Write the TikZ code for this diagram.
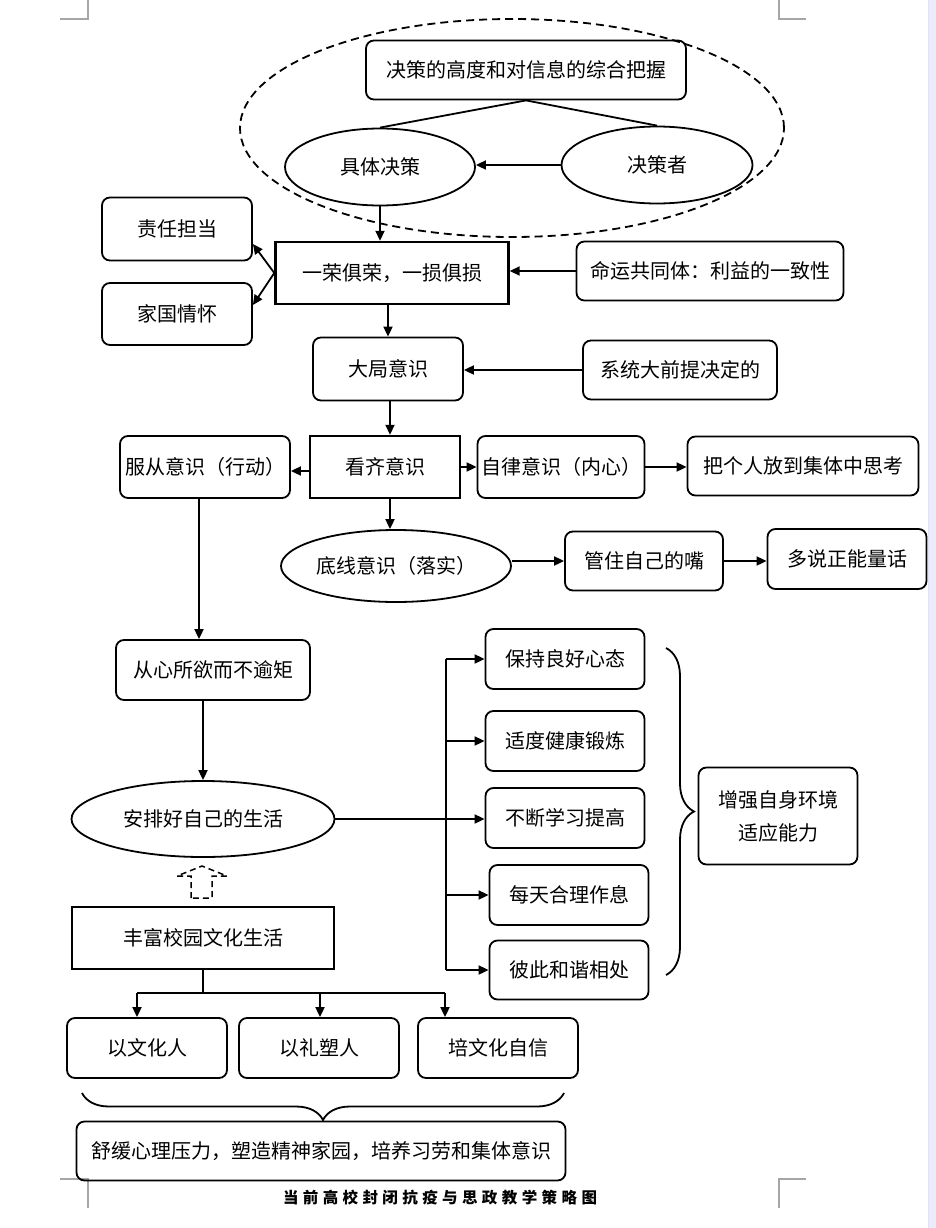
\documentclass[tikz,border=0pt]{standalone}
\usepackage{fontspec}
\setmainfont{Noto Sans CJK SC}
\usetikzlibrary{arrows.meta,shapes.geometric,decorations.pathreplacing,calc}
\begin{document}
\begin{tikzpicture}[x=1pt,y=-1pt,
  every node/.style={font=\fontsize{20}{24}\selectfont, inner sep=0pt, align=center},
  rb/.style 2 args={draw, line width=1.8pt, rounded corners=8pt, minimum width=#1, minimum height=#2},
  sb/.style 2 args={draw, line width=2.4pt, minimum width=#1, minimum height=#2},
  el/.style 2 args={draw, ellipse, line width=1.8pt, minimum width=#1, minimum height=#2},
  arr/.style={line width=1.8pt, -{Triangle[length=10pt,width=9pt]}},
  ln/.style={line width=1.8pt},
  bracestyle/.style={line width=1.8pt, decorate},
  cornermark/.style={draw=black!35, line width=1.6pt},
]
\useasboundingbox (0,0) rectangle (936,1228);
\fill[black!22!blue!8!white] (928,0) rectangle (936,1228);
\draw[black!30!blue!12!white, line width=1pt] (928.5,0) -- (928.5,1228);

% page corner marks
\draw[cornermark] (88,0) -- (88,19) -- (60,19);
\draw[cornermark] (779,0) -- (779,19) -- (806,19);
\draw[cornermark] (60,1179) -- (88,1179) -- (88,1208);
\draw[cornermark] (806,1179) -- (779,1179) -- (779,1208);

% dashed group
\node (grp) [draw, ellipse, line width=1.8pt, dash pattern=on 8pt off 5pt, minimum width=544pt, minimum height=218pt] at (512,128) {};

\node (top) [rb={320pt}{59pt}] at (526,70) {决策的高度和对信息的综合把握};
\node (jt)  [el={190pt}{77pt}] at (380,167) {具体决策};
\node (jcz) [el={191pt}{77pt}] at (657,165) {决策者};

\node (yr)  [sb={233pt}{62pt}] at (392,273) {一荣俱荣，一损俱损};
\node (zr)  [rb={150pt}{63pt}] at (177,229) {责任担当};
\node (jg)  [rb={150pt}{62pt}] at (177,314) {家国情怀};
\node (my)  [rb={267pt}{59pt}] at (710,271) {命运共同体：利益的一致性};

\node (dj)  [rb={150pt}{63pt}] at (388,369) {大局意识};
\node (xt)  [rb={194pt}{59pt}] at (680,370) {系统大前提决定的};

\node (kq)  [sb={150pt}{62pt}] at (385,467) {看齐意识};
\node (fc)  [rb={170pt}{62pt}] at (205,467) {服从意识（行动）};
\node (zl)  [rb={167pt}{62pt}] at (561,467) {自律意识（内心）};
\node (bg)  [rb={231pt}{59pt}] at (803,466) {把个人放到集体中思考};

\node (dx)  [el={230pt}{72pt}] at (396,566) {底线意识（落实）};
\node (gz)  [rb={158pt}{59pt}] at (644,561) {管住自己的嘴};
\node (dsz) [rb={159pt}{60pt}] at (847,559) {多说正能量话};

\node (cx)  [rb={194pt}{60pt}] at (213,670) {从心所欲而不逾矩};
\node (ap)  [el={263pt}{76pt}] at (203,819) {安排好自己的生活};

\node (bc1) [rb={159pt}{60pt}] at (565,659) {保持良好心态};
\node (bc2) [rb={159pt}{60pt}] at (565,741) {适度健康锻炼};
\node (bc3) [rb={159pt}{60pt}] at (565,818) {不断学习提高};
\node (bc4) [rb={159pt}{60pt}] at (569,895) {每天合理作息};
\node (bc5) [rb={159pt}{59pt}] at (569,970) {彼此和谐相处};
\node (zq)  [rb={159pt}{97pt}, font=\fontsize{20}{33}\selectfont] at (778,816) {增强自身环境\\适应能力};

\node (ff)  [sb={262pt}{62pt}] at (203,938) {丰富校园文化生活};
\node (w1)  [rb={160pt}{60pt}] at (147,1048) {以文化人};
\node (w2)  [rb={160pt}{60pt}] at (319,1048) {以礼塑人};
\node (w3)  [rb={160pt}{60pt}] at (498,1048) {培文化自信};
\node (sh)  [rb={489pt}{59pt}] at (321,1151) {舒缓心理压力，塑造精神家园，培养习劳和集体意识};

\node (cap) at (440,1198) {\fontsize{15.5}{18}\selectfont\bfseries 当\kern4.4pt 前\kern4.4pt 高\kern4.4pt 校\kern4.4pt 封\kern4.4pt 闭\kern4.4pt 抗\kern4.4pt 疫\kern4.4pt 与\kern4.4pt 思\kern4.4pt 政\kern4.4pt 教\kern4.4pt 学\kern4.4pt 策\kern4.4pt 略\kern4.4pt 图};

% connectors, top part
\draw[ln] (top.south) -- (jt.north);
\draw[ln] (top.south) -- (jcz.north);
\draw[arr] (jcz.west) -- (jcz.west -| jt.east);
\draw[arr] (jt.south) -- (jt.south |- yr.north);
\draw[arr] (yr.west) -- ([yshift=-15pt]zr.east);
\draw[arr] (yr.west) -- ([yshift=9pt]jg.east);
\draw[arr] (my.west) -- (my.west -| yr.east);
\draw[arr] (yr.south -| dj.north) -- (dj.north);
\draw[arr] (xt.west) -- (xt.west -| dj.east);
\coordinate (kx) at (390,0);
\draw[arr] (dj.south -| kx) -- (kq.north -| kx);
\draw[arr] ([yshift=-4pt]kq.west) -- ([yshift=-4pt]kq.west -| fc.east);
\draw[arr] (kq.east) -- (kq.east -| zl.west);
\draw[arr] (zl.east) -- (zl.east -| bg.west);
\draw[arr] (kq.south -| kx) -- (dx.north -| kx);
\draw[arr] (dx.east |- gz.west) -- (gz.west);
\draw[arr] (gz.east) -- (gz.east -| dsz.west);

% left column
\coordinate (fx) at (199,0);
\draw[arr] (fc.south -| fx) -- (cx.north -| fx);
\draw[arr] (cx.south -| ap.north) -- (ap.north);

% trunk to the five habits
\coordinate (tx) at (446,0);
\draw[ln] (bc1.west -| tx) -- (bc5.west -| tx);
\draw[arr] (ap.east) -- (ap.east -| bc3.west);
\draw[arr] (bc1.west -| tx) -- (bc1.west);
\draw[arr] (bc2.west -| tx) -- (bc2.west);
\draw[arr] (bc4.west -| tx) -- (bc4.west);
\draw[arr] (bc5.west -| tx) -- (bc5.west);

% right brace
\draw[bracestyle, decoration={brace, amplitude=28pt, aspect=0.5}] (666,648) -- (666,975);

% dashed block arrow
\draw[line width=1.5pt, dash pattern=on 6pt off 4pt] (191,898) -- (191,876) -- (177,876) -- (202,866) -- (227,876) -- (212,876) -- (212,898) -- cycle;

% culture branches
\coordinate (hm) at (203,993);
\coordinate (h1) at (137,993);
\coordinate (h2) at (320,993);
\coordinate (h3) at (445,993);
\draw[ln] (ff.south) -- (hm);
\draw[ln] (h1) -- (h3);
\draw[arr] (h1) -- (h1 |- w1.north);
\draw[arr] (h2) -- (h2 |- w2.north);
\draw[arr] (h3) -- (h3 |- w3.north);

% bottom brace
\draw[bracestyle, decoration={brace, amplitude=27pt, aspect=0.5}] (564,1093) -- (82,1093);
\end{tikzpicture}
\end{document}
